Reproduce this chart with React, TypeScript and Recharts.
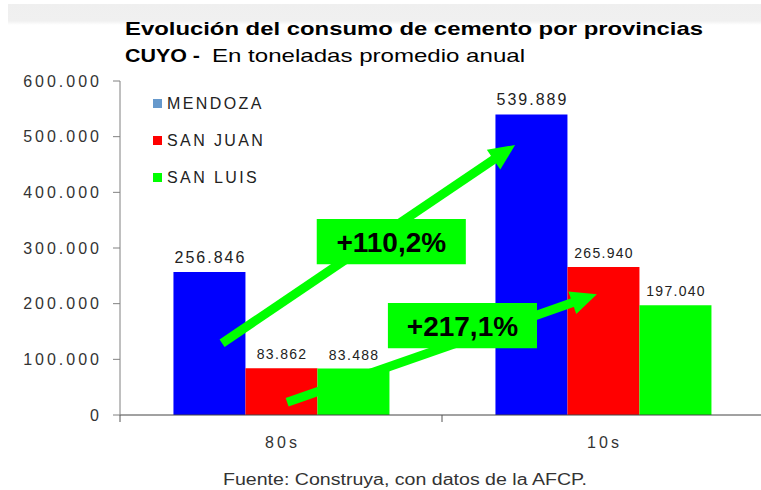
import React from 'react';
import {
  BarChart,
  Bar,
  XAxis,
  YAxis,
  LabelList,
  ReferenceLine,
  ReferenceArea,
} from 'recharts';

// ---- data ----
const categories = ['80s', '10s'];
const mendoza = [256846, 539889];
const sanJuan = [83862, 265940];
const sanLuis = [83488, 197040];
const yTicks = [0, 100000, 200000, 300000, 400000, 500000, 600000];
const seriesNames = ['MENDOZA', 'SAN JUAN', 'SAN LUIS'];
const seriesKeys = ['mendoza', 'sanJuan', 'sanLuis'];
const barColors = ['#0000FF', '#FF0000', '#00FF00'];
const legendColors = ['#6699CC', '#FF0000', '#00FF00'];
const growthLabels = ['+110,2%', '+217,1%'];
// arrows in (fraction of category span, value) units
const arrowStarts = [
  { x: 0.1585, y: 129000 },
  { x: 0.2595, y: 23000 },
];
const arrowEnds = [
  { x: 0.6135, y: 485000 },
  { x: 0.7405, y: 217000 },
];
// label boxes (fraction of category span, value range)
const boxX = [
  [0.3055, 0.537],
  [0.416, 0.6475],
];
const boxY = [
  [271000, 352000],
  [120000, 201000],
];

const titleLine1 = 'Evolución del consumo de cemento por provincias';
const titleBold2 = 'CUYO -';
const titleLine2 = 'En toneladas promedio anual';
const footer = 'Fuente: Construya, con datos de la AFCP.';

const data = categories.map((c, i) => ({
  cat: c,
  mendoza: mendoza[i],
  sanJuan: sanJuan[i],
  sanLuis: sanLuis[i],
}));

const FONT = '"Liberation Sans", Arial, Helvetica, sans-serif';
const fmt = (v: number) => String(v).replace(/\B(?=(\d{3})+(?!\d))/g, '.');

const YTick = (props: any) => {
  const { x, y, payload } = props;
  return (
    <text
      x={x}
      y={y}
      dy="0.36em"
      textAnchor="end"
      fontFamily={FONT}
      fontSize={16}
      fill="#333"
      style={{ letterSpacing: 3 }}
    >
      {fmt(payload.value)}
    </text>
  );
};

const HALF_BAND = 161;
const XTick = (props: any) => {
  const { x, y, payload } = props;
  return (
    <g>
      <line x1={x - HALF_BAND} x2={x - HALF_BAND} y1={y} y2={y + 7} stroke="#555" strokeWidth={1} />
      <text
        x={x + 1.5}
        y={y + 33}
        textAnchor="middle"
        fontFamily={FONT}
        fontSize={16}
        fill="#333"
        style={{ letterSpacing: 3 }}
      >
        {payload.value}
      </text>
    </g>
  );
};

const makeBarLabel = (size: number, ls: number) => (props: any) => {
  const { x, y, width, value } = props;
  return (
    <text
      x={Number(x) + Number(width) / 2 + ls / 2}
      y={Number(y) - 9}
      textAnchor="middle"
      fontFamily={FONT}
      fontSize={size}
      fill="#222"
      style={{ letterSpacing: ls }}
    >
      {fmt(Number(value))}
    </text>
  );
};

const Arrow = (props: any) => {
  const { x1, y1, x2, y2 } = props;
  const dx = x2 - x1;
  const dy = y2 - y1;
  const len = Math.sqrt(dx * dx + dy * dy) || 1;
  const ux = dx / len;
  const uy = dy / len;
  const headLen = 26;
  const headHalf = 12;
  const bx = x2 - ux * headLen;
  const by = y2 - uy * headLen;
  const px = -uy;
  const py = ux;
  return (
    <g>
      <line x1={x1} y1={y1} x2={bx + ux * 2} y2={by + uy * 2} stroke="#00FF00" strokeWidth={9} />
      <polygon
        points={`${x2},${y2} ${bx + px * headHalf},${by + py * headHalf} ${bx - px * headHalf},${by - py * headHalf}`}
        fill="#00FF00"
      />
    </g>
  );
};

export default function App() {
  return (
    <div
      style={{
        position: 'absolute',
        left: 0,
        top: 0,
        width: 761,
        height: 490,
        overflow: 'hidden',
        background: '#fff',
      }}
    >
      <svg width={761} height={490} style={{ position: 'absolute', left: 0, top: 0 }}>
        <defs>
          <linearGradient id="band" x1="0" y1="0" x2="0" y2="1">
            <stop offset="0" stopColor="#efefef" />
            <stop offset="0.8" stopColor="#f0f0f0" />
            <stop offset="1" stopColor="#ffffff" />
          </linearGradient>
        </defs>
        <rect x={8} y={4} width={753} height={21} fill="url(#band)" />
        <text
          x={125}
          y={35}
          fontFamily={FONT}
          fontSize={19}
          fontWeight={700}
          fill="#000"
          textLength={578}
          lengthAdjust="spacingAndGlyphs"
        >
          {titleLine1}
        </text>
        <text
          x={125}
          y={62}
          fontFamily={FONT}
          fontSize={19}
          fontWeight={700}
          fill="#000"
          textLength={75}
          lengthAdjust="spacingAndGlyphs"
        >
          {titleBold2}
        </text>
        <text
          x={212}
          y={62}
          fontFamily={FONT}
          fontSize={19}
          fill="#000"
          textLength={313}
          lengthAdjust="spacingAndGlyphs"
        >
          {titleLine2}
        </text>
        {seriesNames.map((n, i) => (
          <g key={n}>
            <rect x={153} y={99 + i * 37} width={9} height={9} fill={legendColors[i]} />
            <text
              x={167}
              y={109 + i * 37}
              fontFamily={FONT}
              fontSize={16}
              fill="#222"
              style={{ letterSpacing: 2.4 }}
            >
              {n}
            </text>
          </g>
        ))}
        <text
          x={223}
          y={485}
          fontFamily={FONT}
          fontSize={16}
          fill="#333"
          textLength={364}
          lengthAdjust="spacingAndGlyphs"
        >
          {footer}
        </text>
      </svg>
      <div style={{ position: 'absolute', left: 0, top: 0 }}>
        <BarChart
          width={765}
          height={490}
          data={data}
          margin={{ top: 81, right: 1, bottom: 45, left: 10 }}
          barCategoryGap="16.6%"
          barGap={0}
        >
          <XAxis
            dataKey="cat"
            height={30}
            axisLine={{ stroke: '#444', strokeWidth: 1 }}
            tickLine={false}
            tickSize={0}
            tickMargin={0}
            tick={<XTick />}
            interval={0}
          />
          <XAxis xAxisId="n" type="number" domain={[0, 1]} hide allowDataOverflow />
          <YAxis
            width={110}
            domain={[0, 600000]}
            ticks={yTicks}
            interval={0}
            axisLine={{ stroke: '#808080', strokeWidth: 1 }}
            tickLine={{ stroke: '#808080', strokeWidth: 1 }}
            tickSize={7}
            tickMargin={11}
            tick={<YTick />}
          />
          {seriesKeys.map((k, i) => (
            <Bar key={k} dataKey={k} name={seriesNames[i]} fill={barColors[i]} isAnimationActive={false}>
              <LabelList dataKey={k} content={i === 0 ? makeBarLabel(16, 2) : makeBarLabel(14, 1.3)} />
            </Bar>
          ))}
          {growthLabels.map((g, i) => (
            <ReferenceLine
              key={'a' + i}
              xAxisId="n"
              segment={[arrowStarts[i], arrowEnds[i]]}
              shape={(p: any) => <Arrow {...p} />}
              ifOverflow="visible"
              zIndex={600}
            />
          ))}
          {growthLabels.map((g, i) => (
            <ReferenceArea
              key={'b' + i}
              xAxisId="n"
              x1={boxX[i][0]}
              x2={boxX[i][1]}
              y1={boxY[i][0]}
              y2={boxY[i][1]}
              fill="#00FF00"
              fillOpacity={1}
              stroke="none"
              ifOverflow="visible"
              zIndex={700}
              label={{
                value: g,
                position: 'center',
                fontSize: 28,
                fontWeight: 700,
                fill: '#000',
                fontFamily: FONT,
              }}
            />
          ))}
        </BarChart>
      </div>
    </div>
  );
}
